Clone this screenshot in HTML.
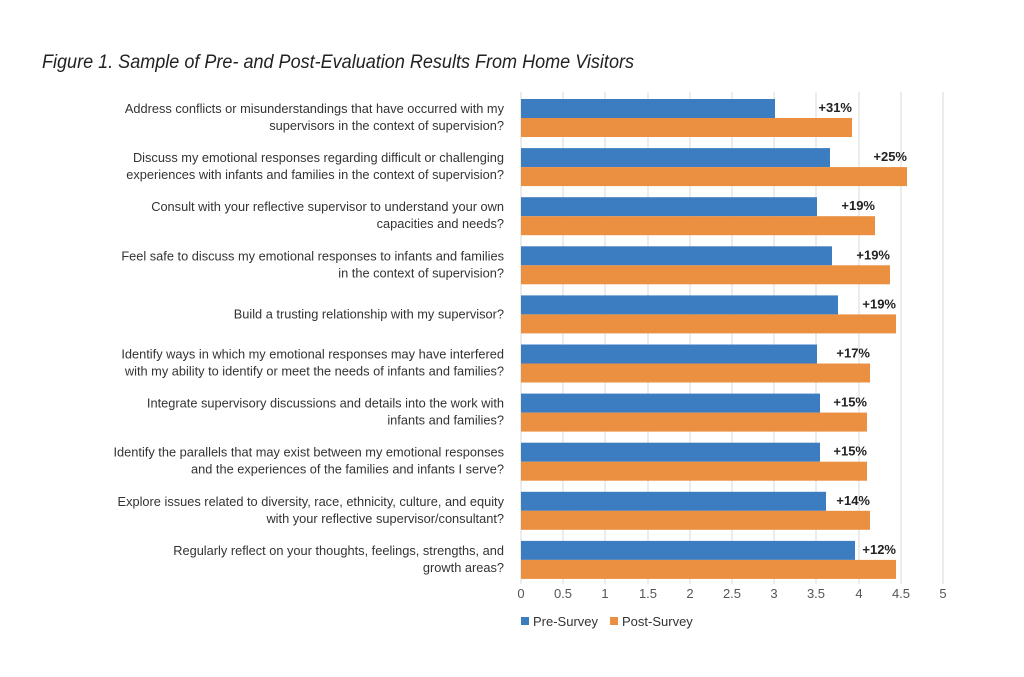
<!DOCTYPE html>
<html><head><meta charset="utf-8"><style>
body{margin:0;width:1024px;height:672px;background:#fff;overflow:hidden;font-family:"Liberation Sans",sans-serif}
</style></head><body>
<svg width="1024" height="672" xmlns="http://www.w3.org/2000/svg" font-family="Liberation Sans, sans-serif">
<text x="42" y="68" font-size="19.5" font-style="italic" fill="#222" textLength="592" lengthAdjust="spacingAndGlyphs">Figure 1. Sample of Pre- and Post-Evaluation Results From Home Visitors</text>
<g stroke="#d9d9d9" stroke-width="1">
<line x1="521" y1="92" x2="521" y2="584"/><line x1="563" y1="92" x2="563" y2="584"/><line x1="605" y1="92" x2="605" y2="584"/><line x1="648" y1="92" x2="648" y2="584"/><line x1="690" y1="92" x2="690" y2="584"/><line x1="732" y1="92" x2="732" y2="584"/><line x1="774" y1="92" x2="774" y2="584"/><line x1="816" y1="92" x2="816" y2="584"/><line x1="859" y1="92" x2="859" y2="584"/><line x1="901" y1="92" x2="901" y2="584"/><line x1="943" y1="92" x2="943" y2="584"/>
</g>
<g id="bars"></g>
<g font-size="13" fill="#555" text-anchor="middle">
<text x="521" y="598">0</text><text x="563" y="598">0.5</text><text x="605" y="598">1</text><text x="648" y="598">1.5</text><text x="690" y="598">2</text><text x="732" y="598">2.5</text><text x="774" y="598">3</text><text x="816" y="598">3.5</text><text x="859" y="598">4</text><text x="901" y="598">4.5</text><text x="943" y="598">5</text>
</g>
<rect x="521" y="617" width="8" height="8" fill="#3b7dc0"/><text x="533" y="626" font-size="13" fill="#333">Pre-Survey</text>
<rect x="610" y="617" width="8" height="8" fill="#ea9040"/><text x="622" y="626" font-size="13" fill="#333">Post-Survey</text>
</svg>
<script>
var d=[[775,852,"+31%","Address conflicts or misunderstandings that have occurred with my","supervisors in the context of supervision?"],
[830,907,"+25%","Discuss my emotional responses regarding difficult or challenging","experiences with infants and families in the context of supervision?"],
[817,875,"+19%","Consult with your reflective supervisor to understand your own","capacities and needs?"],
[832,890,"+19%","Feel safe to discuss my emotional responses to infants and families","in the context of supervision?"],
[838,896,"+19%","","Build a trusting relationship with my supervisor?"],
[817,870,"+17%","Identify ways in which my emotional responses may have interfered","with my ability to identify or meet the needs of infants and families?"],
[820,867,"+15%","Integrate supervisory discussions and details into the work with","infants and families?"],
[820,867,"+15%","Identify the parallels that may exist between my emotional responses","and the experiences of the families and infants I serve?"],
[826,870,"+14%","Explore issues related to diversity, race, ethnicity, culture, and equity","with your reflective supervisor/consultant?"],
[855,896,"+12%","Regularly reflect on your thoughts, feelings, strengths, and","growth areas?"]];
var s="";
d.forEach(function(r,i){var y=99+i*49.1;
s+='<rect x="521" y="'+y+'" width="'+(r[0]-521)+'" height="19" fill="#3b7dc0"/>';
s+='<rect x="521" y="'+(y+19)+'" width="'+(r[1]-521)+'" height="19" fill="#ea9040"/>';
s+='<text x="'+r[1]+'" y="'+(y+13)+'" font-size="13" font-weight="bold" fill="#222" text-anchor="end">'+r[2]+'</text>';
if(r[3]){s+='<text x="504" y="'+(y+14)+'" font-size="12.8" fill="#333" text-anchor="end">'+r[3]+'</text>';
s+='<text x="504" y="'+(y+31)+'" font-size="12.8" fill="#333" text-anchor="end">'+r[4]+'</text>';}
else s+='<text x="504" y="'+(y+23)+'" font-size="12.8" fill="#333" text-anchor="end">'+r[4]+'</text>';
});
document.getElementById("bars").innerHTML=s;
</script>
</body></html>
